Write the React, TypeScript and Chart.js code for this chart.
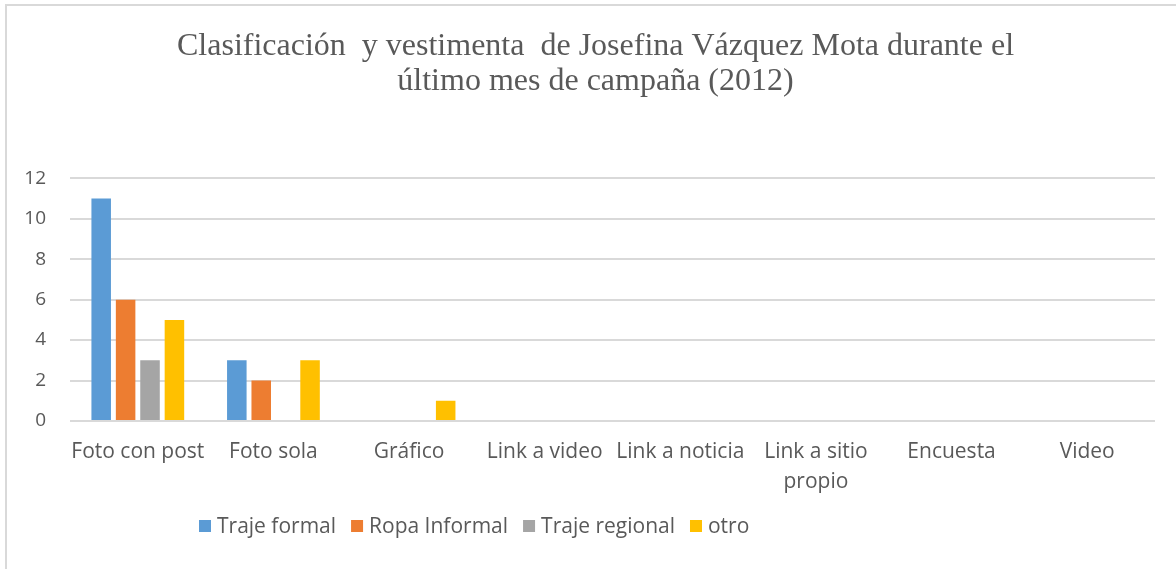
import React, { useEffect, useRef } from "react";
import { Chart, registerables } from "chart.js";

Chart.register(...registerables);

const categories: (string | string[])[] = [
  "Foto con post",
  "Foto sola",
  "Gráfico",
  "Link a video",
  "Link a noticia",
  ["Link a sitio", "propio"],
  "Encuesta",
  "Video",
];

const trajeFormal = [11, 3, 0, 0, 0, 0, 0, 0];
const ropaInformal = [6, 2, 0, 0, 0, 0, 0, 0];
const trajeRegional = [3, 0, 0, 0, 0, 0, 0, 0];
const otro = [5, 3, 1, 0, 0, 0, 0, 0];

const seriesNames = ["Traje formal", "Ropa Informal", "Traje regional", "otro"];
const seriesColors = ["#5b9bd5", "#ed7d31", "#a5a5a5", "#ffc000"];

const titleLines = [
  "Clasificación  y vestimenta  de Josefina Vázquez Mota durante el",
  "último mes de campaña (2012)",
];

const yTicks = [0, 2, 4, 6, 8, 10, 12];

const TEXT = "#595959";
const GRID = "#d9d9d9";

const frameAndLegend = {
  id: "frameAndLegend",
  afterLayout(chart: any) {
    // let the y tick labels use the space left of the axis box
    if (chart.scales.y) chart.scales.y.left = 0;
  },
  beforeDraw(chart: any) {
    const ctx = chart.ctx;
    ctx.save();
    ctx.fillStyle = "#ffffff";
    ctx.fillRect(0, 0, chart.width, chart.height);
    ctx.strokeStyle = GRID;
    ctx.lineWidth = 2;
    ctx.strokeRect(6, 5, chart.width + 20, chart.height + 20);
    ctx.restore();
  },
  afterDraw(chart: any) {
    const ctx = chart.ctx;
    ctx.save();
    ctx.font = "21px 'Open Sans'";
    ctx.textBaseline = "middle";
    ctx.textAlign = "left";
    let x = 199;
    const y = 526;
    const box = 12;
    chart.data.datasets.forEach((ds: any) => {
      ctx.fillStyle = ds.backgroundColor;
      ctx.fillRect(x, y - box / 2, box, box);
      x += box + 6;
      ctx.fillStyle = TEXT;
      ctx.fillText(ds.label, x, y + 1);
      x += ctx.measureText(ds.label).width + 15;
    });
    ctx.restore();
  },
};

export default function App() {
  const ref = useRef<HTMLCanvasElement | null>(null);

  useEffect(() => {
    if (!ref.current) return;
    const series = [trajeFormal, ropaInformal, trajeRegional, otro];
    const chart = new Chart(ref.current, {
      type: "bar",
      data: {
        labels: categories,
        datasets: series.map((d, i) => ({
          label: seriesNames[i],
          data: d,
          backgroundColor: seriesColors[i],
          borderWidth: 0,
          categoryPercentage: 0.72,
          barPercentage: 0.8,
        })),
      },
      plugins: [frameAndLegend],
      options: {
        responsive: false,
        animation: false,
        layout: { padding: { left: 36, right: 35, top: 0, bottom: 56 } },
        plugins: {
          legend: { display: false },
          tooltip: { enabled: false },
          title: {
            display: true,
            text: titleLines,
            color: TEXT,
            font: { family: "'Liberation Serif'", size: 32, weight: "normal", lineHeight: 1.1 },
            padding: { top: 29, bottom: 79 },
          },
        },
        scales: {
          x: {
            grid: { display: false, drawTicks: false },
            border: { display: false },
            ticks: {
              color: TEXT,
              font: { family: "'Open Sans'", size: 21, lineHeight: 1.43 },
              padding: 16,
              maxRotation: 0,
              autoSkip: false,
            },
          },
          y: {
            min: 0,
            max: 12,
            afterBuildTicks: (scale: any) => {
              scale.ticks = yTicks.map((v) => ({ value: v }));
            },
            afterFit: (scale: any) => {
              scale.width = 34;
            },
            grid: { color: GRID, lineWidth: 2, drawTicks: false },
            border: { display: false },
            ticks: {
              color: TEXT,
              font: { family: "'Open Sans'", size: 19 },
              padding: 24,
            },
          },
        },
      },
    });
    return () => chart.destroy();
  }, []);

  return (
    <div
      style={{
        position: "fixed",
        left: 0,
        top: 0,
        width: 1176,
        height: 569,
        overflow: "hidden",
        background: "#fff",
      }}
    >
      <canvas ref={ref} width={1190} height={569} style={{ display: "block" }} />
    </div>
  );
}
